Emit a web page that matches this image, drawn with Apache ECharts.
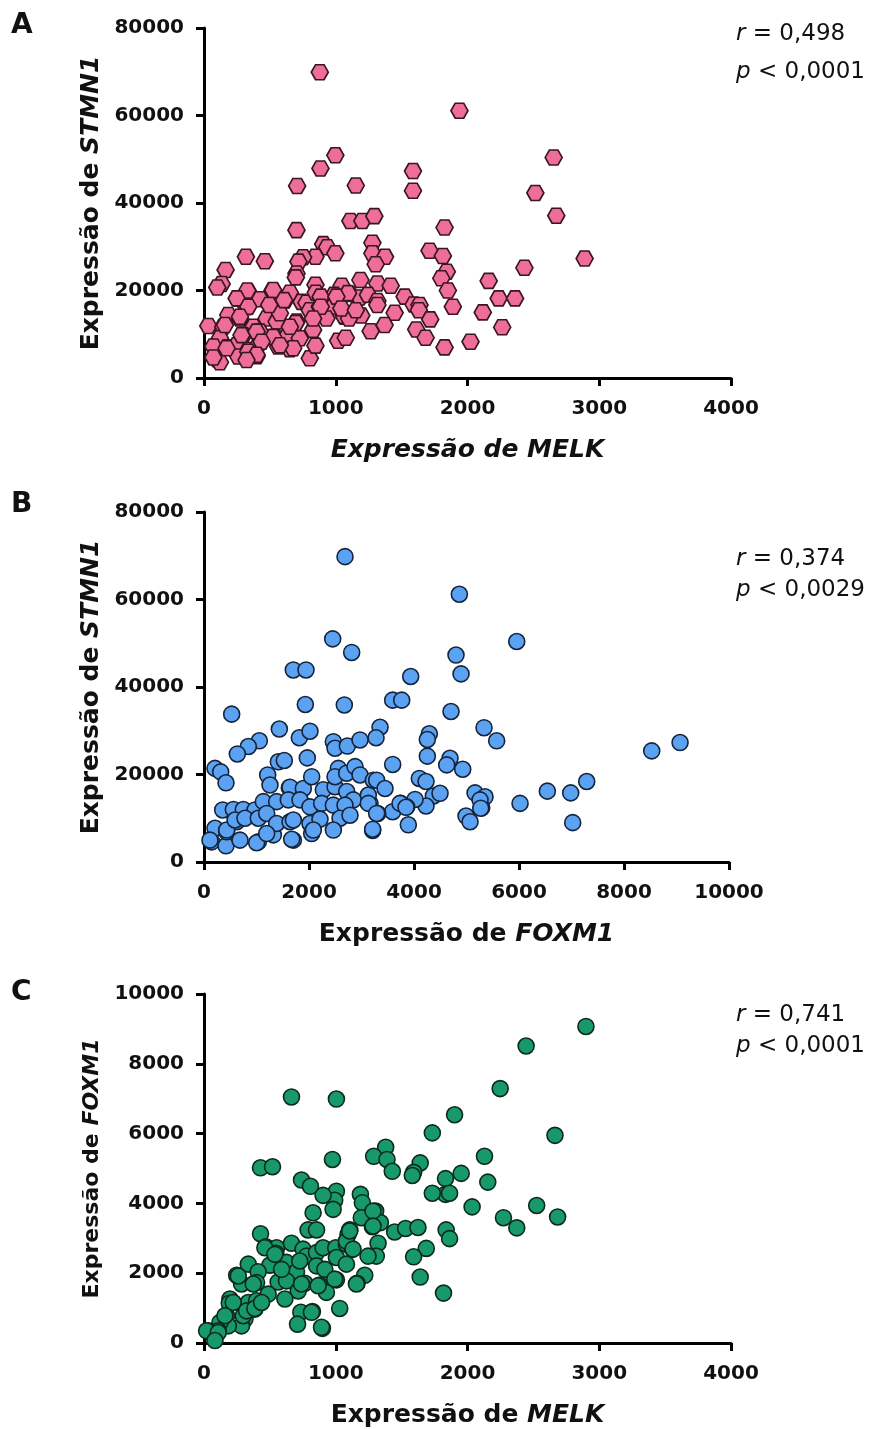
<!DOCTYPE html>
<html>
<head>
<meta charset="utf-8">
<script src="https://cdn.jsdelivr.net/npm/echarts@6/dist/echarts.min.js"></script>
<style>
  html, body { margin: 0; padding: 0; background: #fff; }
  #chart { width: 875px; height: 1429px; }
</style>
</head>
<body>
<div id="chart"></div>
<script>
// Panel A: MELK (x) vs STMN1 (y)
const melkStmn1 = [
  [879, 69900], [1939, 61100], [997, 50900], [884, 47900], [707, 43900], [1152, 44000], [1586, 47300], [1586, 42800],
  [1111, 35900], [1202, 35900], [1293, 37000], [702, 33800], [1826, 34400], [1278, 30900], [905, 30600], [935, 29900],
  [997, 28500], [1278, 28500], [1374, 27700], [1303, 26000], [1712, 29100], [1813, 27900], [846, 27700], [752, 27600],
  [717, 26600], [318, 27700], [462, 26700], [164, 24700], [702, 23900], [697, 23000], [1843, 24300], [1801, 22800],
  [1187, 22400], [1316, 21600], [1417, 21100], [1045, 21100], [846, 21300], [134, 21500], [101, 20700], [1851, 20000],
  [1106, 19200], [1182, 18400], [1245, 19000], [1316, 17600], [1316, 16700], [987, 19000], [1523, 18600], [1591, 16800],
  [1636, 16700], [1631, 15500], [1889, 16300], [2116, 15000], [2161, 22200], [1717, 13400], [1447, 14900], [1194, 14300],
  [1371, 12100], [1265, 10700], [1611, 11100], [1682, 9200], [1826, 7000], [2023, 8300], [1018, 8500], [1076, 9200],
  [803, 4500], [846, 7400], [2654, 50400], [2515, 42300], [2674, 37100], [2889, 27300], [2432, 25200], [2237, 18200],
  [2361, 18200], [2263, 11600], [260, 18200], [336, 19700], [424, 18000], [520, 20000], [614, 17700], [652, 19500],
  [740, 17400], [778, 17200], [848, 19500], [891, 18200], [1093, 19400], [323, 16200], [475, 13600], [551, 12900],
  [576, 14800], [803, 15500], [879, 16300], [980, 16300], [929, 13600], [1068, 14000], [702, 12900], [828, 11000],
  [33, 11900], [184, 14400], [273, 13600], [374, 11700], [146, 11700], [298, 9800], [424, 10600], [538, 9400],
  [626, 9300], [727, 9100], [121, 9100], [71, 7200], [177, 7000], [248, 7500], [336, 6400], [411, 7500],
  [399, 5000], [563, 7200], [652, 6600], [100, 4300], [121, 3600], [260, 4900], [525, 20100], [608, 17800],
  [886, 18600], [886, 16300], [1061, 14200], [1101, 13600], [828, 13600], [697, 12600], [652, 11700], [525, 9400],
  [677, 6800], [576, 7500], [495, 16700], [328, 20000], [248, 18200], [336, 16300], [273, 14000], [159, 12100],
  [285, 9800], [399, 10600], [437, 8300], [172, 6800], [336, 6000], [399, 5300], [71, 4700], [323, 4100],
  [1005, 18600], [1043, 15900], [1152, 15500]
]

// Panel B: FOXM1 (x) vs STMN1 (y)
const foxm1Stmn1 = [
  [2686, 69800], [4864, 61200], [2451, 51000], [2813, 47900], [1701, 43900], [1943, 43900], [4800, 47300], [4896, 43000],
  [3937, 42400], [1930, 36000], [2673, 35900], [3594, 37000], [3766, 37000], [527, 33800], [4705, 34400], [1435, 30400],
  [3353, 30800], [3277, 28400], [4292, 29300], [4254, 28000], [5334, 30700], [1816, 28400], [2019, 29900], [1054, 27700],
  [845, 26400], [635, 24700], [2464, 27500], [2496, 26000], [2731, 26500], [2972, 27900], [1968, 23800], [1416, 22900],
  [1530, 23200], [4254, 24200], [3594, 22300], [4686, 23700], [4623, 22200], [4928, 21200], [210, 21400], [318, 20600],
  [419, 18100], [1213, 19900], [1257, 17600], [1625, 17000], [2559, 21400], [4102, 19100], [4229, 18400], [4369, 15100],
  [4496, 15700], [5163, 15800], [5353, 14900], [5290, 12400], [4991, 10500], [5068, 9200], [3892, 8500], [3213, 7200],
  [4229, 12800], [4020, 14300], [3747, 13400], [3861, 12600], [3594, 11500], [3309, 11100], [3162, 13400], [146, 4600],
  [419, 3700], [210, 7700], [432, 6900], [356, 11900], [622, 9200], [686, 5000], [1035, 4600], [1321, 6200],
  [1702, 5000], [2051, 6500], [1638, 17100], [1892, 16800], [2051, 19500], [2273, 16500], [2496, 17200], [2496, 19500],
  [2718, 20300], [2877, 21800], [2972, 19900], [2718, 16100], [2845, 14200], [3130, 15300], [3225, 18700], [3289, 18700],
  [3448, 16800], [559, 12000], [749, 12000], [972, 11900], [1130, 13800], [1384, 13800], [1606, 14200], [1829, 14200],
  [2019, 12600], [2242, 13400], [2464, 13000], [2686, 13000], [3130, 13400], [3289, 11100], [432, 7300], [591, 9600],
  [781, 10000], [1035, 10000], [1194, 11100], [1384, 8800], [1638, 9200], [1702, 9600], [2019, 8800], [2210, 9800],
  [2591, 10000], [2781, 10700], [114, 5000], [1003, 4400], [1194, 6500], [1670, 5200], [2083, 7300], [2464, 7300],
  [3213, 7500], [5575, 27700], [5957, 50400], [8528, 25400], [9068, 27300], [6020, 13400], [6540, 16200], [6985, 15800],
  [7023, 9000], [7290, 18400], [3734, 13400], [3848, 12500], [5258, 14200], [5271, 12300]
]

// Panel C: MELK (x) vs FOXM1 (y)
const melkFoxm1 = [
  [664, 7050], [1005, 6990], [1902, 6540], [1733, 6020], [2129, 5350], [2154, 4610], [1379, 5610], [1288, 5350],
  [1389, 5260], [1429, 4920], [975, 5260], [429, 5020], [520, 5050], [1641, 5160], [1591, 4890], [1581, 4800],
  [740, 4670], [808, 4490], [1005, 4350], [992, 4090], [980, 3830], [904, 4230], [1952, 4860], [1833, 4710],
  [1833, 4260], [1864, 4290], [1733, 4290], [2035, 3900], [1187, 4260], [1202, 4020], [1303, 3780], [1339, 3450],
  [1278, 3330], [1194, 3590], [828, 3730], [790, 3240], [854, 3240], [1447, 3180], [1530, 3280], [1624, 3310],
  [1838, 3240], [1864, 2990], [1106, 3240], [1093, 3110], [1321, 2860], [1308, 2490], [1245, 2490], [1687, 2710],
  [1591, 2470], [1641, 1890], [1818, 1430], [1220, 1940], [1162, 1710], [1030, 990], [899, 420], [735, 880],
  [823, 900], [710, 540], [429, 3130], [470, 2760], [551, 2730], [545, 2570], [664, 2860], [752, 2690],
  [778, 2490], [854, 2590], [904, 2730], [1000, 2730], [1081, 2830], [1127, 2690], [1005, 2450], [1081, 2260],
  [500, 2230], [336, 2260], [411, 2040], [626, 2310], [702, 2040], [854, 2210], [917, 2110], [765, 1710],
  [248, 1940], [285, 1690], [399, 1730], [563, 1750], [626, 1780], [879, 1660], [929, 1450], [1005, 1810],
  [715, 1490], [614, 1260], [487, 1400], [197, 1260], [192, 1140], [336, 1160], [399, 1210], [386, 970],
  [311, 690], [285, 490], [172, 780], [184, 490], [121, 590], [108, 350], [33, 350], [83, 160],
  [2899, 9070], [2445, 8510], [2248, 7290], [2664, 5950], [2525, 3940], [2273, 3590], [2374, 3300], [2684, 3610],
  [462, 2730], [538, 2540], [1081, 2920], [1106, 3210], [1131, 2690], [589, 2110], [727, 2350], [260, 1920],
  [374, 1690], [740, 1690], [866, 1640], [992, 1830], [1157, 1690], [222, 1160], [159, 780], [298, 780],
  [323, 920], [386, 990], [437, 1160], [20, 350], [108, 300], [83, 70], [816, 880], [892, 450],
  [1283, 3780], [1283, 3350]
]

const panelLetters = ['A', 'B', 'C']
const rValues = ['0,498', '0,374', '0,741']
const pValues = ['0,0001', '0,0029', '0,0001']

const FONT = 'DejaVu Sans'
const hexagon = 'path://M0,43.3 L25,0 L75,0 L100,43.3 L75,86.6 L25,86.6 Z'

function axisBase(max, interval) {
  return {
    type: 'value',
    min: 0,
    max: max,
    interval: interval,
    axisLine: { show: true, onZero: false, lineStyle: { color: '#000', width: 3 } },
    axisTick: { show: true, length: 8, lineStyle: { color: '#000', width: 3 } },
    axisLabel: {
      color: '#111', fontFamily: FONT, fontWeight: 'bold', fontSize: 20,
      formatter: v => String(v)
    },
    splitLine: { show: false },
    nameLocation: 'middle',
    nameTextStyle: {
      color: '#111', fontFamily: FONT, fontWeight: 'bold', fontSize: 25,
      rich: { i: { fontFamily: FONT, fontWeight: 'bold', fontStyle: 'italic', fontSize: 25, color: '#111' } }
    }
  }
}

function xAxis(idx, max, interval, name, allItalic) {
  const a = axisBase(max, interval)
  a.gridIndex = idx
  a.name = name
  a.nameGap = 60
  a.axisLabel.margin = 21
  if (allItalic) a.nameTextStyle.fontStyle = 'italic'
  return a
}

function yAxis(idx, max, interval, name, size) {
  const a = axisBase(max, interval)
  a.gridIndex = idx
  a.name = name
  a.nameGap = 98
  a.axisLabel.margin = 20
  if (size) {
    a.nameTextStyle.fontSize = size
    a.nameTextStyle.rich.i.fontSize = size
  }
  return a
}

function scatter(idx, data, symbol, size, color, border) {
  return {
    type: 'scatter',
    xAxisIndex: idx,
    yAxisIndex: idx,
    data: data,
    symbol: symbol,
    symbolSize: size,
    itemStyle: { color: color, borderColor: border, borderWidth: 1.6, opacity: 1 },
    animation: false
  }
}

function statText(top, label, value, sign) {
  return {
    type: 'text',
    left: 736,
    top: top,
    style: {
      text: '{i|' + label + '} ' + sign + ' ' + value,
      fill: '#111',
      font: '23px "DejaVu Sans"',
      rich: { i: { fontStyle: 'italic', fontSize: 23, fontFamily: FONT, fill: '#111' } }
    }
  }
}

function letter(top, text) {
  return {
    type: 'text',
    left: 11,
    top: top,
    style: { text: text, fill: '#111', font: 'bold 28px "DejaVu Sans"' }
  }
}

const chart = echarts.init(document.getElementById('chart'))
chart.setOption({
  backgroundColor: '#fff',
  animation: false,
  grid: [
    { left: 204, top: 28, width: 527, height: 350 },
    { left: 204, top: 512, width: 525, height: 350 },
    { left: 204, top: 994, width: 527, height: 350 }
  ],
  xAxis: [
    xAxis(0, 4000, 1000, 'Expressão de MELK', true),
    xAxis(1, 10000, 2000, 'Expressão de {i|FOXM1}'),
    xAxis(2, 4000, 1000, 'Expressão de {i|MELK}')
  ],
  yAxis: [
    yAxis(0, 80000, 20000, 'Expressão de {i|STMN1}'),
    yAxis(1, 80000, 20000, 'Expressão de {i|STMN1}'),
    yAxis(2, 10000, 2000, 'Expressão de {i|FOXM1}', 22)
  ],
  series: [
    scatter(0, melkStmn1, hexagon, [17, 15], '#EF6E98', '#3a1522'),
    scatter(1, foxm1Stmn1, 'circle', 16, '#5BA2F2', '#14243a'),
    scatter(2, melkFoxm1, 'circle', 16, '#17996A', '#0c2a1c')
  ],
  graphic: [
    letter(12, panelLetters[0]),
    letter(491, panelLetters[1]),
    letter(979, panelLetters[2]),
    statText(23, 'r', rValues[0], '='),
    statText(61, 'p', pValues[0], '<'),
    statText(548, 'r', rValues[1], '='),
    statText(579, 'p', pValues[1], '<'),
    statText(1004, 'r', rValues[2], '='),
    statText(1035, 'p', pValues[2], '<')
  ]
})
</script>
</body>
</html>
